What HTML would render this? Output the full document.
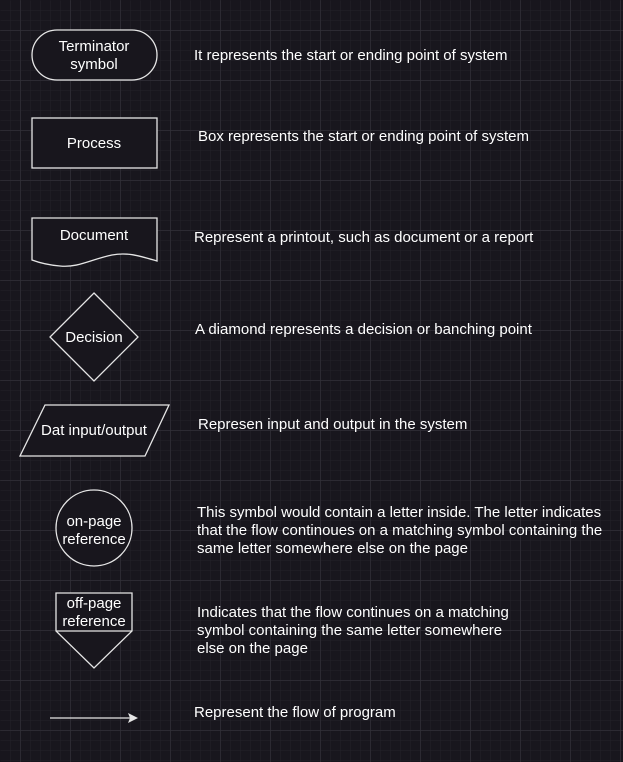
<!DOCTYPE html>
<html><head><meta charset="utf-8"><style>
html,body{margin:0;padding:0;background:#18161d;}
svg{display:block}
text{font-family:"Liberation Sans",sans-serif;font-size:15px;fill:#ffffff}
</style></head><body>
<svg width="623" height="762" viewBox="0 0 623 762">
<defs>
<pattern id="minor" width="10" height="10" patternUnits="userSpaceOnUse" x="0" y="0">
<path d="M10 0V10M0 10H10" stroke="#232229" stroke-width="1" fill="none"/>
</pattern>
<pattern id="major" width="50" height="50" patternUnits="userSpaceOnUse" x="20.5" y="30.5">
<path d="M0 0V50M0 0H50" stroke="#34333a" stroke-width="1" fill="none"/>
</pattern>
</defs>
<rect width="623" height="762" fill="#18161d"/>
<rect width="623" height="762" fill="url(#minor)" transform="translate(0.5,0.5)"/>
<rect width="623" height="762" fill="url(#major)"/>

<g stroke="#e6e6e6" stroke-width="1.3" fill="#18161d">
<rect x="32" y="30" width="125" height="50" rx="25"/>
<rect x="32" y="118" width="125" height="50"/>
<path d="M32 218H157V261C140 256 128 252 112 255C92 259 78 268 60 266C48 265 40 263 32 260Z"/>
<path d="M94 293L138 337L94 381L50 337Z"/>
<path d="M45 405H169L145 456H20Z"/>
<circle cx="94" cy="528" r="38"/>
<path d="M56 593H132V631L94 668L56 631Z"/>
<line x1="56" y1="631" x2="132" y2="631"/>
<line x1="50" y1="718" x2="130" y2="718"/>
</g>
<path d="M138 718L128 713L130 718L128 723Z" fill="#e6e6e6"/>

<g text-anchor="middle">
<text x="94" y="51">Terminator</text>
<text x="94" y="69">symbol</text>
<text x="94" y="148">Process</text>
<text x="94" y="240">Document</text>
<text x="94" y="342">Decision</text>
<text x="94" y="435">Dat input/output</text>
<text x="94" y="526">on-page</text>
<text x="94" y="544">reference</text>
<text x="94" y="608">off-page</text>
<text x="94" y="626">reference</text>
</g>

<text x="194" y="60">It represents the start or ending point of system</text>
<text x="198" y="141">Box represents the start or ending point of system</text>
<text x="194" y="242">Represent a printout, such as document or a report</text>
<text x="195" y="334">A diamond represents a decision or banching point</text>
<text x="198" y="429">Represen input and output in the system</text>
<text x="197" y="517">This symbol would contain a letter inside. The letter indicates</text>
<text x="197" y="535">that the flow continoues on a matching symbol containing the</text>
<text x="197" y="553">same letter somewhere else on the page</text>
<text x="197" y="617">Indicates that the flow continues on a matching</text>
<text x="197" y="635">symbol containing the same letter somewhere</text>
<text x="197" y="653">else on the page</text>
<text x="194" y="717">Represent the flow of program</text>
</svg>
</body></html>
